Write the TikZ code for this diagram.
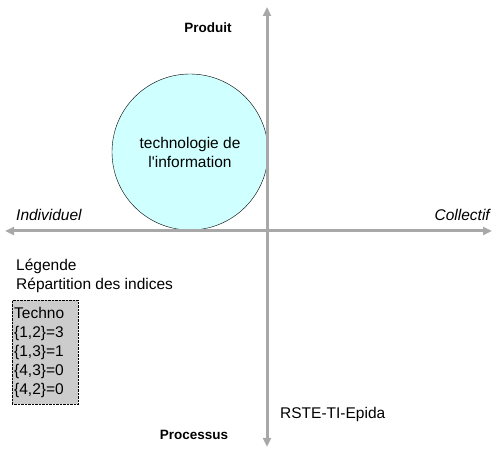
\documentclass[tikz,border=0pt]{standalone}
\usepackage{fontspec}
\setmainfont{Liberation Sans}
\usetikzlibrary{arrows.meta,positioning}

\definecolor{axisgray}{RGB}{168,168,168}
\definecolor{techcyan}{RGB}{208,255,255}
\definecolor{legendgray}{RGB}{204,204,204}

\begin{document}
\begin{tikzpicture}[x=1pt, y=-1pt, font=\fontsize{15.5}{19}\selectfont, >={Triangle[length=9pt, width=8pt]},
  axis/.style={<->, line width=3pt, draw=axisgray},
  pole/.style={font=\fontsize{13.5}{16}\selectfont\bfseries},
  side/.style={font=\fontsize{15.5}{19}\selectfont\itshape, inner sep=0pt},
  plain/.style={inner sep=0pt, align=left},
  field/.style={draw, thin, circle, fill=techcyan, minimum size=156pt, align=center, inner sep=0pt},
  legendbox/.style={draw, densely dotted, fill=legendgray, align=left, text width=62pt, inner sep=2pt}]
  \useasboundingbox (0,0) rectangle (496,454);
  % quadrant
  \node[field] (techno) at (190,152) {technologie de\\l\textquotesingle information};
  \coordinate (west) at (5,231);
  \coordinate (east) at (492,231);
  \coordinate (north) at (267,7);
  \coordinate (south) at (267,447);
  \draw[axis] (west) -- (east);
  \draw[axis] (south) -- (north);
  % axis labels
  \node[pole] (produit) at (208,28) {Produit};
  \node[pole] (processus) at (194,435) {Processus};
  \node[side, anchor=base west] (indiv) at (16,221) {Individuel};
  \node[side, anchor=base east] (collec) at (490,221) {Collectif};
  % legend
  \node[plain, anchor=base west] (legende) at (16,290) {Légende\\Répartition des indices};
  \node[legendbox, anchor=north west, minimum height=104pt] (indices) at (12,300)
    {Techno\\\{1,2\}=3\\\{1,3\}=1\\\{4,3\}=0\\\{4,2\}=0};
  \node[plain, anchor=base west] (rste) at (280,419) {RSTE-TI-Epida};
\end{tikzpicture}
\end{document}
